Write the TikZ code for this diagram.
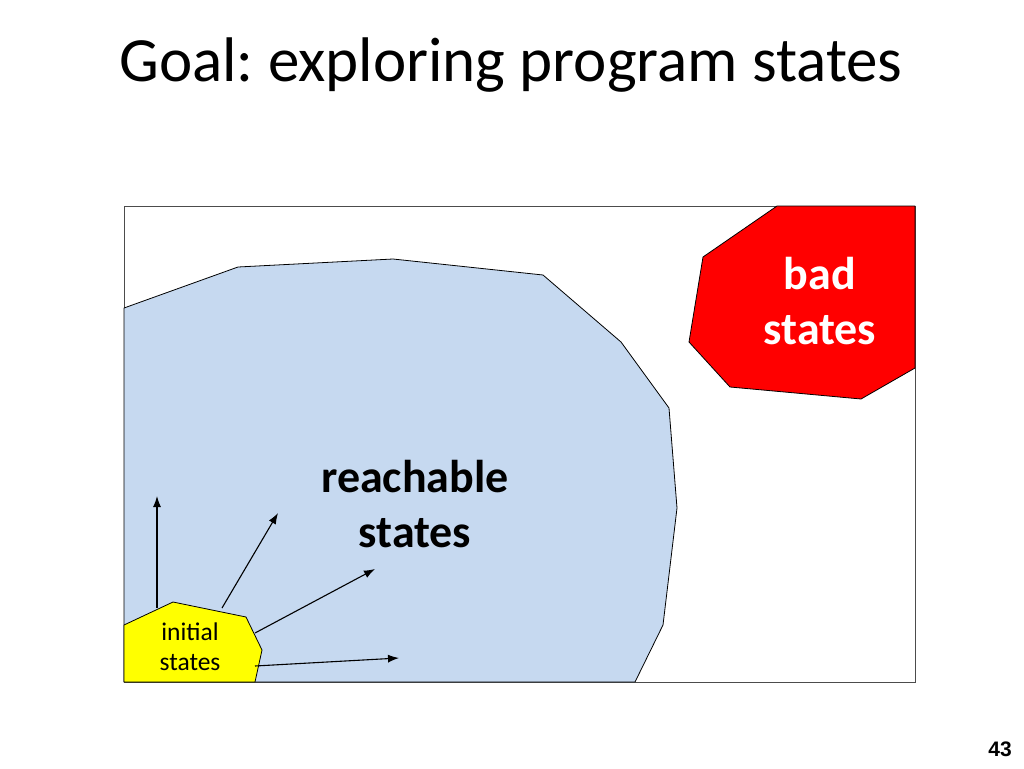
\documentclass[tikz,border=0pt]{standalone}
\usepackage{fontspec}
\setmainfont{Carlito}
\newfontfamily\pagefont{Liberation Sans}
\usepackage{tikz}
\usetikzlibrary{arrows.meta, positioning}
\frenchspacing
\definecolor{reachblue}{RGB}{198,217,240}
\definecolor{badred}{RGB}{255,0,0}
\definecolor{inityellow}{RGB}{255,255,0}
\tikzstyle{region} = [draw, line width=0.8pt, line join=round]
\tikzstyle{bigtext} = [align=center, font=\fontsize{46}{55}\selectfont\bfseries]
\tikzstyle{line} = [draw, line width=1.1pt, -{Latex[length=11pt, width=8pt]}]

\begin{document}
\begin{tikzpicture}[x=1pt, y=-1pt]
			\useasboundingbox (0,0) rectangle (1024,768);
			\node (title) at (511, 65) {\fontsize{63}{70}\selectfont Goal: exploring program states};
			\node (page) at (1000, 749) {\pagefont\fontsize{21}{24}\selectfont\bfseries 43};
			
			\draw [line width=0.8pt, draw=black!70] (124, 206) rectangle (915, 682);
			\path [region, fill=reachblue] (124, 308) -- (238, 267) -- (393, 259) -- (543, 275) -- (621, 342) -- (669, 408) -- (677, 508) -- (663, 625) -- (635, 682) -- (124, 682) -- cycle;
			\path [region, fill=badred] (777, 206) -- (915, 206) -- (915, 368) -- (861, 399) -- (730, 387) -- (689, 342) -- (703, 257) -- cycle;
			\path [region, fill=inityellow] (124, 625) -- (173, 602) -- (246, 617) -- (262, 650) -- (255, 682) -- (124, 682) -- cycle;
			
			\node [bigtext] (reach) at (415, 504) {reachable\\states};
			\node [bigtext, text=white] (bad) at (820, 301) {bad\\states};
			\node [align=center, font=\fontsize{25.5}{30}\selectfont] (init) at (190, 647) {initial\\states};
			
			\coordinate (s1) at (157, 608);
			\coordinate (s2) at (222, 608);
			\coordinate (s3) at (255, 633);
			\coordinate (s4) at (255, 666);
			\coordinate (e1) at (157, 496);
			\coordinate (e2) at (278, 513);
			\coordinate (e3) at (375, 569);
			\coordinate (e4) at (399, 658);
			
			\path [line] (s1) -- (e1);
			\path [line] (s2) -- (e2);
			\path [line] (s3) -- (e3);
			\path [line] (s4) -- (e4);
		\end{tikzpicture}
\end{document}
